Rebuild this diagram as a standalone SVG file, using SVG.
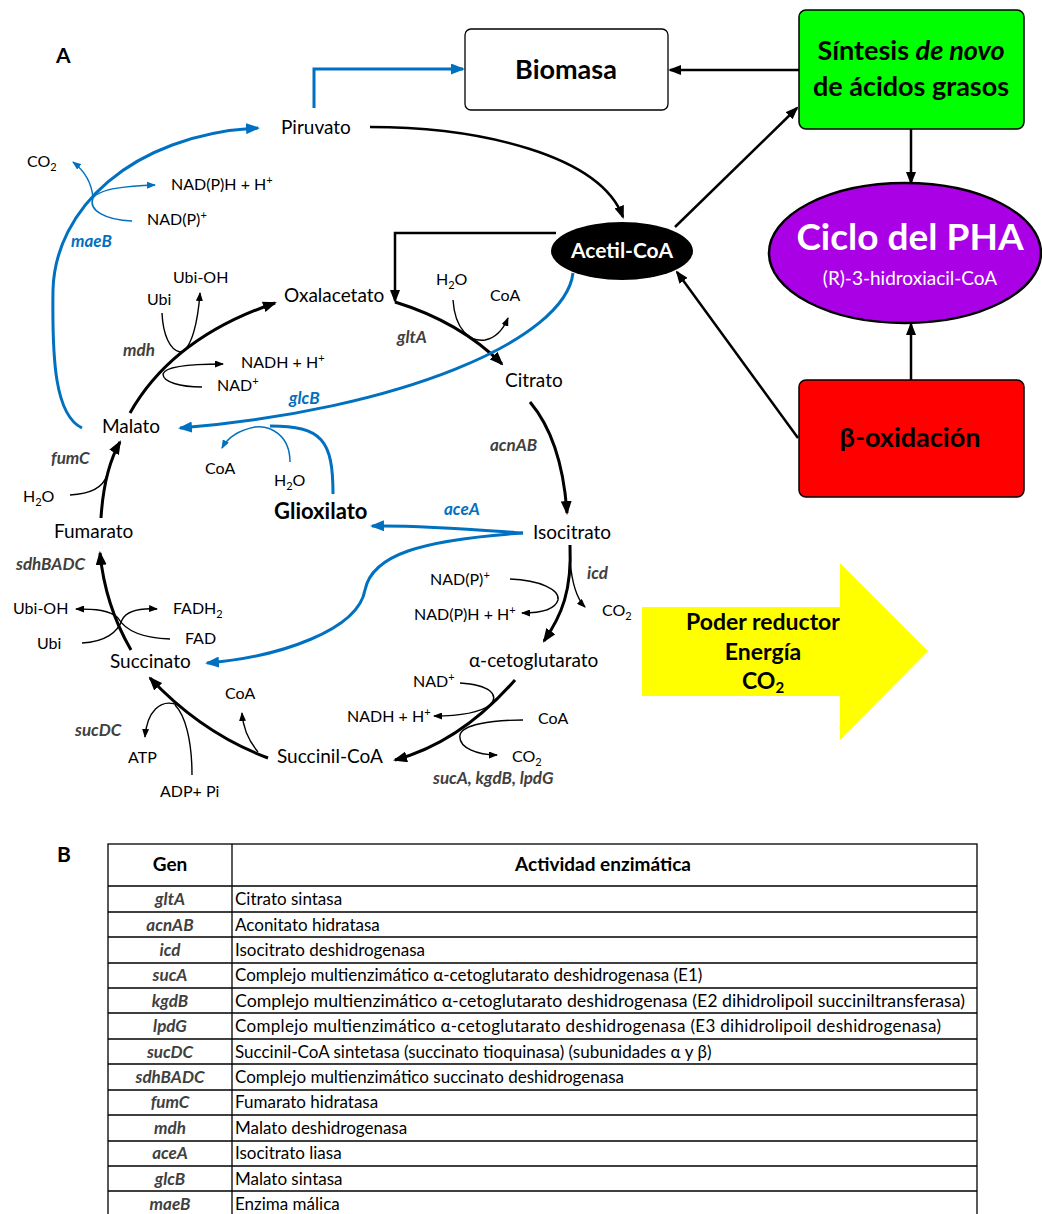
<svg xmlns="http://www.w3.org/2000/svg" width="1042" height="1214" viewBox="0 0 1042 1214">
<defs>
<style>
.t{font-family:Lato,'Liberation Sans',sans-serif;font-size:19px;fill:#000}
.s{font-size:16px}
.b{font-weight:bold}
.g{font-family:Lato,'Liberation Sans',sans-serif;font-weight:bold;font-style:italic;font-size:17px;fill:#404040}
.gb{font-family:Lato,'Liberation Sans',sans-serif;font-weight:bold;font-style:italic;font-size:17px;fill:#0070C0}
.thick{stroke:#000;stroke-width:3;fill:none}
.thin{stroke:#000;stroke-width:1.4;fill:none}
.conn{stroke:#000;stroke-width:2.5;fill:none}
.bthick{stroke:#0070C0;stroke-width:3;fill:none}
.bthin{stroke:#0070C0;stroke-width:1.5;fill:none}
.tab{font-family:Lato,'Liberation Sans',sans-serif;font-size:17px;fill:#000}
.tg{font-family:Lato,'Liberation Sans',sans-serif;font-size:17px;font-weight:bold;font-style:italic;fill:#404040}
.grid{stroke:#000;stroke-width:1.3;fill:none}
</style>
<marker id="ab" viewBox="0 0 14 11" refX="12" refY="5.5" markerUnits="userSpaceOnUse" markerWidth="14" markerHeight="11" orient="auto"><path d="M0,0 L14,5.5 L0,11 z" fill="#000"/></marker>
<marker id="as" viewBox="0 0 9 7" refX="8" refY="3.5" markerUnits="userSpaceOnUse" markerWidth="9" markerHeight="7" orient="auto"><path d="M0,0 L9,3.5 L0,7 z" fill="#000"/></marker>
<marker id="ac" viewBox="0 0 13 10" refX="11" refY="5" markerUnits="userSpaceOnUse" markerWidth="13" markerHeight="10" orient="auto"><path d="M0,0 L13,5 L0,10 z" fill="#000"/></marker>
<marker id="bb" viewBox="0 0 14 11" refX="12" refY="5.5" markerUnits="userSpaceOnUse" markerWidth="14" markerHeight="11" orient="auto"><path d="M0,0 L14,5.5 L0,11 z" fill="#0070C0"/></marker>
<marker id="bs" viewBox="0 0 9 7" refX="8" refY="3.5" markerUnits="userSpaceOnUse" markerWidth="9" markerHeight="7" orient="auto"><path d="M0,0 L9,3.5 L0,7 z" fill="#0070C0"/></marker>
</defs>
<rect width="1042" height="1214" fill="#fff"/>

<text class="t b" x="56" y="63" style="font-size:21px">A</text>
<text class="t b" x="57" y="862" style="font-size:21px">B</text>

<g id="connectors">
<path class="conn" d="M799,70 L670,70" marker-end="url(#ac)"/>
<path class="conn" d="M911,129 L911,183" marker-end="url(#ac)"/>
<path class="conn" d="M911,380 L911,324" marker-end="url(#ac)"/>
<path class="conn" d="M675,227 L797,108" marker-end="url(#ac)"/>
<path class="conn" d="M798,438 L677,272" marker-end="url(#ac)"/>
<path class="bthick" d="M314,108 L314,69 L463,69" marker-end="url(#bb)"/>
<path class="conn" d="M370,127 C480,127 600,155 623,217" marker-end="url(#ac)"/>
<path class="conn" d="M556,233 L395,233 L395,301" marker-end="url(#ac)"/>
<path class="thick" d="M395,302 Q460,322 502,364" marker-end="url(#ab)"/>
<path class="thin" d="M453,300 C455,330 470,342 485,340 C495,338 503,330 508,318" marker-end="url(#as)"/>
<path class="bthick" d="M573,273 C565,340 400,410 180,428" marker-end="url(#bb)"/>
<path class="bthick" d="M333,494 C333,440 322,426 270,426"/>
<path class="bthin" d="M290,462 C290,435 270,425 255,427 C240,430 228,437 222,448" marker-end="url(#bs)"/>
<path class="thick" d="M530,402 Q562,440 567,513" marker-end="url(#ab)"/>
<path class="bthick" d="M523,533 C480,530 420,525 372,526" marker-end="url(#bb)"/>
<path class="bthick" d="M523,533 C420,540 372,555 365,590 C358,630 280,657 207,663" marker-end="url(#bb)"/>
<path class="thick" d="M570,545 C572,590 562,615 544,641" marker-end="url(#ab)"/>
<path class="thin" d="M510,579 C540,580 560,590 558,600 C555,610 540,613 522,613" marker-end="url(#as)"/>
<path class="thin" d="M570,560 C572,585 578,600 585,607" marker-end="url(#as)"/>
<path class="thick" d="M515,680 C480,720 440,748 395,760" marker-end="url(#ab)"/>
<path class="thin" d="M460,683 C490,685 500,695 490,705 C478,714 455,716 434,716" marker-end="url(#as)"/>
<path class="thin" d="M523,720 C490,720 462,725 460,735 C458,748 478,755 497,755" marker-end="url(#as)"/>
<path class="thick" d="M268,758 C220,740 180,710 150,678" marker-end="url(#ab)"/>
<path class="thin" d="M258,752 C248,740 243,728 242,713" marker-end="url(#as)"/>
<path class="thin" d="M192,775 C192,740 185,715 175,705"/>
<path class="thin" d="M178,705 C160,698 147,712 145,737" marker-end="url(#as)"/>
<path class="thick" d="M131,650 Q105,605 100,553" marker-end="url(#ab)"/>
<path class="thin" d="M82,643 C105,642 118,632 122,620 C127,610 140,608 157,609" marker-end="url(#as)"/>
<path class="thin" d="M170,639 C140,638 125,630 118,618 C110,610 95,609 76,609" marker-end="url(#as)"/>
<path class="thick" d="M101,518 Q104,470 120,442" marker-end="url(#ab)"/>
<path class="thin" d="M70,495 C90,494 103,488 107,475"/>
<path class="thick" d="M130,413 C160,360 210,325 275,303" marker-end="url(#ab)"/>
<path class="thin" d="M162,313 C163,335 170,350 180,352 C192,350 198,320 200,293" marker-end="url(#as)"/>
<path class="thin" d="M202,387 C180,387 163,382 163,374 C165,366 190,364 223,364" marker-end="url(#as)"/>
<path class="bthick" d="M82,428 C55,415 52,360 53,290 C55,210 130,135 258,128" marker-end="url(#bb)"/>
<path class="bthin" d="M132,221 C105,220 88,210 93,198 C100,188 130,186 155,185" marker-end="url(#bs)"/>
<path class="bthin" d="M93,198 C92,186 86,172 73,162" marker-end="url(#bs)"/>
</g>

<g id="biomasa">
<rect x="465" y="29" width="203" height="81" rx="6" fill="#fff" stroke="#000" stroke-width="1.3"/>
<text class="t b" x="566" y="79" text-anchor="middle" style="font-size:27px">Biomasa</text>
</g>
<g id="sintesis">
<rect x="799" y="10" width="225" height="119" rx="7" fill="#00FF00" stroke="#000" stroke-width="1.5"/>
<text class="t b" x="911" y="60" text-anchor="middle" style="font-size:27px">Síntesis <tspan font-style="italic">de novo</tspan></text>
<text class="t b" x="911" y="96" text-anchor="middle" style="font-size:27px">de ácidos grasos</text>
</g>
<g id="pha">
<ellipse cx="905" cy="253" rx="136" ry="70" fill="#AA00E6" stroke="#000" stroke-width="2.5"/>
<text class="t b" x="910" y="250" text-anchor="middle" style="font-size:37px;fill:#fff">Ciclo del PHA</text>
<text class="t" x="910" y="285" text-anchor="middle" style="font-size:19px;fill:#fff">(R)-3-hidroxiacil-CoA</text>
</g>
<g id="beta">
<rect x="799" y="380" width="225" height="117" rx="7" fill="#FF0000" stroke="#000" stroke-width="1.5"/>
<text class="t b" x="910" y="447" text-anchor="middle" style="font-size:27px">β-oxidación</text>
</g>
<g id="acetilcoa">
<ellipse cx="622" cy="251" rx="71" ry="29" fill="#000"/>
<text class="t b" x="622" y="258" text-anchor="middle" style="font-size:21px;fill:#fff">Acetil-CoA</text>
</g>
<g id="poder">
<polygon points="642,607 840,607 840,563 928,651 840,740 840,696 642,696" fill="#FFFF00"/>
<text class="t b" x="763" y="630" text-anchor="middle" style="font-size:23px">Poder reductor</text>
<text class="t b" x="763" y="660" text-anchor="middle" style="font-size:23px">Energía</text>
<text class="t b" x="763" y="689" text-anchor="middle" style="font-size:23px">CO<tspan font-size="15" dy="4">2</tspan></text>
</g>

<g id="piruvato"><text class="t" x="281" y="134">Piruvato</text></g>
<g id="oxalacetato"><text class="t" x="284" y="302">Oxalacetato</text></g>
<g id="citrato"><text class="t" x="505" y="387">Citrato</text></g>
<g id="isocitrato"><text class="t" x="533" y="539">Isocitrato</text></g>
<g id="acetoglutarato"><text class="t" x="469" y="667">α-cetoglutarato</text></g>
<g id="succinilcoa"><text class="t" x="277" y="763">Succinil-CoA</text></g>
<g id="succinato"><text class="t" x="110" y="668">Succinato</text></g>
<g id="fumarato"><text class="t" x="54" y="538">Fumarato</text></g>
<g id="malato"><text class="t" x="102" y="433">Malato</text></g>
<g id="glioxilato"><text class="t b" x="274" y="519" style="font-size:22px">Glioxilato</text></g>

<g id="cofactors">
<text class="t s" x="27" y="167">CO<tspan font-size="11" dy="4">2</tspan></text>
<text class="t s" x="171" y="190">NAD(P)H + H<tspan font-size="11" dy="-6">+</tspan></text>
<text class="t s" x="147" y="225">NAD(P)<tspan font-size="11" dy="-6">+</tspan></text>
<text class="t s" x="173" y="283">Ubi-OH</text>
<text class="t s" x="147" y="305">Ubi</text>
<text class="t s" x="241" y="368">NADH + H<tspan font-size="11" dy="-6">+</tspan></text>
<text class="t s" x="217" y="391">NAD<tspan font-size="11" dy="-6">+</tspan></text>
<text class="t s" x="436" y="285">H<tspan font-size="11" dy="4">2</tspan><tspan dy="-4">O</tspan></text>
<text class="t s" x="490" y="301">CoA</text>
<text class="t s" x="205" y="474">CoA</text>
<text class="t s" x="274" y="486">H<tspan font-size="11" dy="4">2</tspan><tspan dy="-4">O</tspan></text>
<text class="t s" x="23" y="502">H<tspan font-size="11" dy="4">2</tspan><tspan dy="-4">O</tspan></text>
<text class="t s" x="13" y="614">Ubi-OH</text>
<text class="t s" x="173" y="614">FADH<tspan font-size="11" dy="4">2</tspan></text>
<text class="t s" x="37" y="649">Ubi</text>
<text class="t s" x="185" y="644">FAD</text>
<text class="t s" x="225" y="699">CoA</text>
<text class="t s" x="128" y="763">ATP</text>
<text class="t s" x="160" y="797">ADP+ Pi</text>
<text class="t s" x="430" y="585">NAD(P)<tspan font-size="11" dy="-6">+</tspan></text>
<text class="t s" x="414" y="620">NAD(P)H + H<tspan font-size="11" dy="-6">+</tspan></text>
<text class="t s" x="602" y="616">CO<tspan font-size="11" dy="4">2</tspan></text>
<text class="t s" x="413" y="687">NAD<tspan font-size="11" dy="-6">+</tspan></text>
<text class="t s" x="347" y="722">NADH + H<tspan font-size="11" dy="-6">+</tspan></text>
<text class="t s" x="538" y="724">CoA</text>
<text class="t s" x="512" y="762">CO<tspan font-size="11" dy="4">2</tspan></text>
</g>

<g id="enzymes">
<text class="gb" x="71" y="247">maeB</text>
<text class="g" x="123" y="356">mdh</text>
<text class="gb" x="289" y="404">glcB</text>
<text class="g" x="397" y="343">gltA</text>
<text class="g" x="490" y="451">acnAB</text>
<text class="gb" x="444" y="515">aceA</text>
<text class="g" x="587" y="579">icd</text>
<text class="g" x="433" y="784">sucA, kgdB, lpdG</text>
<text class="g" x="75" y="736">sucDC</text>
<text class="g" x="16" y="570">sdhBADC</text>
<text class="g" x="51" y="464">fumC</text>
</g>

<g id="tabla">
<rect class="grid" x="108" y="844" width="869" height="374"/>
<line class="grid" x1="232" y1="844" x2="232" y2="1218"/>
<path class="grid" d="M108,886H977 M108,912H977 M108,937H977 M108,963H977 M108,988H977 M108,1013H977 M108,1039H977 M108,1064H977 M108,1090H977 M108,1115H977 M108,1141H977 M108,1166H977 M108,1191H977"/>
<text class="tab b" x="170" y="871" text-anchor="middle" style="font-size:19px">Gen</text>
<text class="tab b" x="603" y="871" text-anchor="middle" style="font-size:19px">Actividad enzimática</text>
<g class="tg" text-anchor="middle">
<text x="170" y="905">gltA</text>
<text x="170" y="931">acnAB</text>
<text x="170" y="956">icd</text>
<text x="170" y="981">sucA</text>
<text x="170" y="1007">kgdB</text>
<text x="170" y="1032">lpdG</text>
<text x="170" y="1058">sucDC</text>
<text x="170" y="1083">sdhBADC</text>
<text x="170" y="1108">fumC</text>
<text x="170" y="1134">mdh</text>
<text x="170" y="1159">aceA</text>
<text x="170" y="1185">glcB</text>
<text x="170" y="1210">maeB</text>
</g>
<g class="tab">
<text x="235" y="905">Citrato sintasa</text>
<text x="235" y="931">Aconitato hidratasa</text>
<text x="235" y="956">Isocitrato deshidrogenasa</text>
<text x="235" y="981">Complejo multienzimático α-cetoglutarato deshidrogenasa (E1)</text>
<text x="235" y="1007" textLength="730" lengthAdjust="spacingAndGlyphs">Complejo multienzimático α-cetoglutarato deshidrogenasa (E2 dihidrolipoil succiniltransferasa)</text>
<text x="235" y="1032" textLength="706" lengthAdjust="spacing">Complejo multienzimático α-cetoglutarato deshidrogenasa (E3 dihidrolipoil deshidrogenasa)</text>
<text x="235" y="1058">Succinil-CoA sintetasa (succinato tioquinasa) (subunidades α y β)</text>
<text x="235" y="1083">Complejo multienzimático succinato deshidrogenasa</text>
<text x="235" y="1108">Fumarato hidratasa</text>
<text x="235" y="1134">Malato deshidrogenasa</text>
<text x="235" y="1159">Isocitrato liasa</text>
<text x="235" y="1185">Malato sintasa</text>
<text x="235" y="1210">Enzima málica</text>
</g>
</g>
</svg>
